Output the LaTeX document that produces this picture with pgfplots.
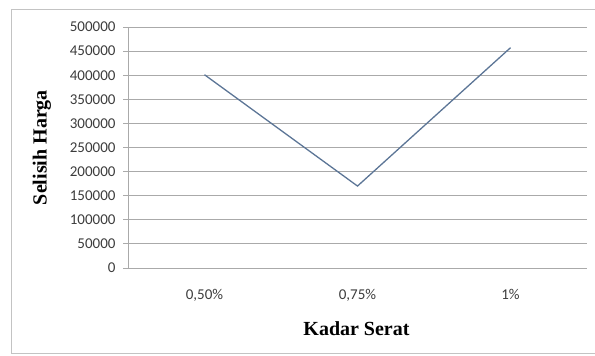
\documentclass[border=0pt]{standalone}
\usepackage{pgfplots}
\pgfplotsset{compat=1.18}
\usepackage{fontspec}
\setmainfont{Carlito}
\newfontfamily\titlefont{Liberation Serif}
\definecolor{linec}{RGB}{92,117,150}
\definecolor{gridc}{RGB}{170,170,170}
\definecolor{tickc}{RGB}{60,60,60}
\begin{document}
\begin{tikzpicture}[x=1pt,y=1pt]
\useasboundingbox (0,0) rectangle (595,356);
\draw[color=gridc!70, line width=1pt] (11,2) rectangle (596,346);
\begin{axis}[
  at={(128pt,88pt)}, anchor=south west,
  scale only axis, width=459pt, height=241pt,
  xmin=-0.5, xmax=2.5, ymin=0, ymax=500000,
  xtick={0,1,2}, xticklabels={{0,50\%},{0,75\%},{1\%}},
  ytick={0,50000,...,500000},
  scaled y ticks=false,
  /pgf/number format/assume math mode=true,
  yticklabel={\pgfmathprintnumber[fixed,1000 sep={}]{\tick}},
  tick label style={font=\fontsize{15}{17}\selectfont, text=tickc},
  yticklabel style={xshift=-4pt},
  xticklabel style={yshift=-13pt},
  ymajorgrids, grid style={gridc, line width=0.9pt},
  axis line style={gridc, line width=0.9pt},
  axis x line*=bottom, axis y line*=left,
  x axis line style={draw=none},
  major x tick style={draw=none},
  major y tick style={gridc, line width=0.9pt},
  tick align=outside, major tick length=5pt,
  xlabel={\titlefont\bfseries\fontsize{20}{22}\selectfont Kadar Serat},
  ylabel={\titlefont\bfseries\fontsize{20}{22}\selectfont Selisih Harga},
  every axis x label/.style={at={(rel axis cs:0.5,0)}, yshift=-61pt, xshift=-1pt, anchor=center, text=black},
  every axis y label/.style={at={(rel axis cs:0,0.5)}, xshift=-86pt, rotate=90, anchor=center, text=black},
]
\addplot[linec, line width=1.3pt, mark=none] coordinates {(0,401000) (1,170000) (2,457000)};
\end{axis}
\end{tikzpicture}
\end{document}
